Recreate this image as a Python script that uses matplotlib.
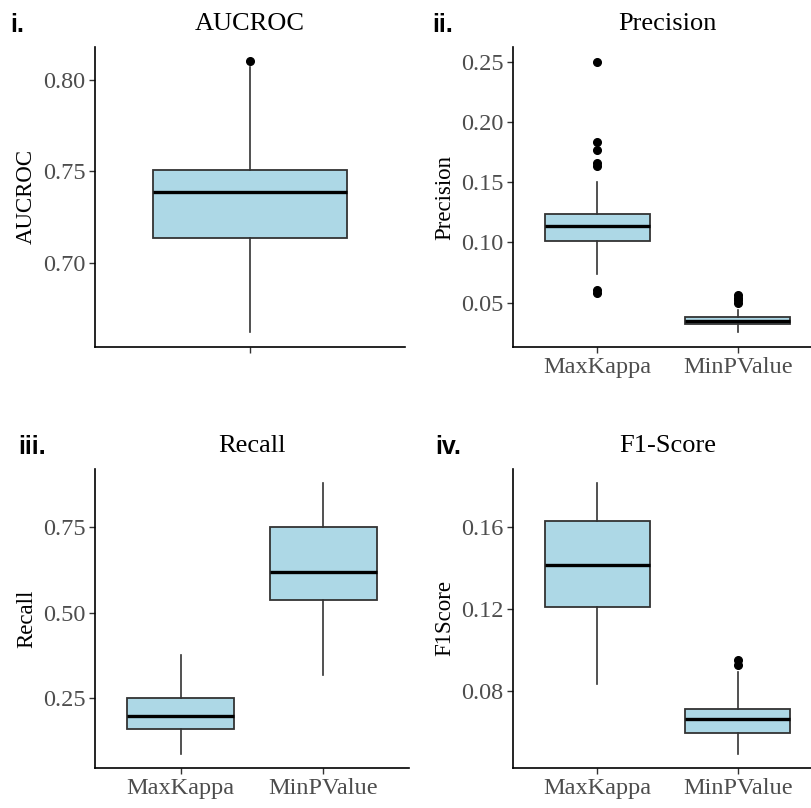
import matplotlib.pyplot as plt

plt.rcParams['font.family'] = ['Liberation Serif']

# box statistics (whislo, q1, med, q3, whishi, outliers)
methods = ["MaxKappa", "MinPValue"]

auc_stats = [0.6623, 0.7137, 0.7386, 0.7505, 0.8070]
auc_out = [0.8104]

prec_kappa = [0.0738, 0.1014, 0.1139, 0.1236, 0.1500]
prec_kappa_out = [0.2500, 0.1836, 0.1767, 0.1659, 0.1631, 0.0605, 0.0578]
prec_minp = [0.0259, 0.0321, 0.0351, 0.0384, 0.0439]
prec_minp_out = [0.0564, 0.0541, 0.0522, 0.0500]

rec_kappa = [0.0863, 0.1590, 0.1990, 0.2520, 0.3766]
rec_minp = [0.3180, 0.5380, 0.6180, 0.7500, 0.8800]

f1_kappa = [0.0833, 0.1208, 0.1411, 0.1628, 0.1815]
f1_minp = [0.0490, 0.0595, 0.0660, 0.0711, 0.0893]
f1_minp_out = [0.0952, 0.0923]


def make_stats(vals, fliers=()):
    return {"whislo": vals[0], "q1": vals[1], "med": vals[2], "q3": vals[3],
            "whishi": vals[4], "fliers": list(fliers)}


W, H = 812, 808
fig = plt.figure(figsize=(W / 100, H / 100), dpi=100)


def panel(px_left, px_right, px_top, px_bottom, stats, labels, title, ylabel,
          tag, ylim, yticks, fmt):
    ax = fig.add_axes([px_left / W, 1 - px_bottom / H,
                       (px_right - px_left) / W, (px_bottom - px_top) / H])
    ax.bxp(stats, positions=range(1, len(stats) + 1), widths=0.75,
           patch_artist=True, showcaps=False,
           boxprops=dict(facecolor="#add8e6", edgecolor="#333333", linewidth=1.3),
           medianprops=dict(color="black", linewidth=2.4),
           whiskerprops=dict(color="#333333", linewidth=1.2),
           flierprops=dict(marker="o", markerfacecolor="black",
                           markeredgecolor="black", markersize=5.5))
    ax.set_xlim(0.4, len(stats) + 0.6)
    ax.set_ylim(*ylim)
    ax.set_yticks(yticks)
    ax.set_yticklabels([fmt.format(v) for v in yticks])
    ax.set_xticks(range(1, len(stats) + 1))
    ax.set_xticklabels(labels)
    for s in ["top", "right"]:
        ax.spines[s].set_visible(False)
    for s in ["left", "bottom"]:
        ax.spines[s].set_linewidth(1.2)
        ax.spines[s].set_color("black")
    ax.tick_params(axis="both", length=4, width=1.0, color="#333333",
                   labelsize=17.5, labelcolor="#4d4d4d", pad=3)
    ax.set_title(title, fontsize=19, pad=12)
    ax.set_ylabel(ylabel, fontsize=16.5, labelpad=4)
    fig.text(tag[0] / W, 1 - tag[1] / H, tag[2], fontsize=18, fontweight="bold",
             family="Liberation Sans", va="baseline", ha="left")
    return ax


panel(95, 405, 47, 347, [make_stats(auc_stats, auc_out)], [""],
      "AUCROC", "AUCROC", (10, 32, "i."),
      (0.654, 0.818), [0.70, 0.75, 0.80], "{:.2f}")

panel(513, 822, 47, 347,
      [make_stats(prec_kappa, prec_kappa_out), make_stats(prec_minp, prec_minp_out)],
      methods, "Precision", "Precision", (432, 32, "ii."),
      (0.0132, 0.2622), [0.05, 0.10, 0.15, 0.20, 0.25], "{:.2f}")

panel(95, 409, 469, 768, [make_stats(rec_kappa), make_stats(rec_minp)],
      methods, "Recall", "Recall", (18, 454, "iii."),
      (0.046, 0.920), [0.25, 0.50, 0.75], "{:.2f}")

panel(513, 822, 469, 768,
      [make_stats(f1_kappa), make_stats(f1_minp, f1_minp_out)],
      methods, "F1-Score", "F1Score", (435, 454, "iv."),
      (0.0423, 0.1881), [0.08, 0.12, 0.16], "{:.2f}")

fig.savefig("out.png", dpi=100)
